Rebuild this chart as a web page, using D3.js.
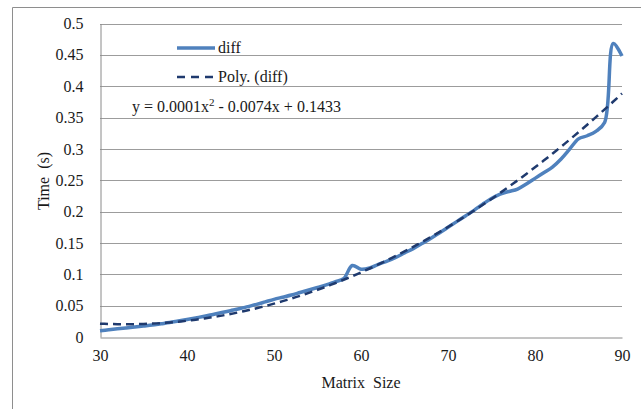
<!DOCTYPE html>
<html>
<head>
<meta charset="utf-8">
<script src="https://cdn.jsdelivr.net/npm/d3@7"></script>
<style>
  html, body { margin: 0; padding: 0; background: #ffffff; }
  svg { display: block; }
  text { font-family: "Liberation Serif", "Times New Roman", serif; fill: #1a1a1a; white-space: pre; }
</style>
</head>
<body>
<svg id="chart" width="641" height="409"></svg>
<script>
// Matrix size (x) and measured time difference in seconds (y)
const matrixSize = [30,31,32,33,34,35,36,37,38,39,40,41,42,43,44,45,46,47,48,49,50,51,52,53,54,55,56,57,58,59,60,61,62,63,64,65,66,67,68,69,70,71,72,73,74,75,76,77,78,79,80,81,82,83,84,85,86,87,88,89,90];
const diffTime   = [0.010,0.0115,0.013,0.0145,0.016,0.0175,0.019,0.021,0.023,0.0255,0.028,0.0305,0.033,0.036,0.039,0.042,0.045,0.0485,0.052,0.056,0.060,0.0635,0.067,0.071,0.075,0.079,0.083,0.088,0.093,0.114,0.108,0.110,0.116,0.121,0.127,0.134,0.141,0.149,0.157,0.166,0.175,0.184,0.193,0.202,0.212,0.221,0.228,0.232,0.236,0.244,0.253,0.262,0.271,0.284,0.300,0.316,0.321,0.328,0.342,0.468,0.448];

const xTicks = [30,40,50,60,70,80,90];
const yTicks = [0,0.05,0.1,0.15,0.2,0.25,0.3,0.35,0.4,0.45,0.5];
const yTickLabels = ["0","0.05","0.1","0.15","0.2","0.25","0.3","0.35","0.4","0.45","0.5"];

const legendLabels = ["diff", "Poly. (diff)"];
const equationText = ["y = 0.0001x", "2", " - 0.0074x + 0.1433"];
const xTitle = "Matrix  Size";
const yTitle = "Time  (s)";

const svg = d3.select("#chart");
const plot = { left: 100, right: 622, top: 23.5, bottom: 337 };

const x = d3.scaleLinear().domain([30, 90]).range([plot.left, plot.right]);
const y = d3.scaleLinear().domain([0, 0.5]).range([plot.bottom, plot.top]);

// Outer chart frame
svg.append("path")
  .attr("d", "M12.5,409 L12.5,7.5 L641,7.5")
  .attr("fill", "none").attr("stroke", "#8e8e8e").attr("stroke-width", 1);

// Horizontal gridlines
svg.append("g").selectAll("line").data(yTicks.slice(1)).join("line")
  .attr("x1", plot.left).attr("x2", plot.right)
  .attr("y1", d => Math.round(y(d)) + 0.5).attr("y2", d => Math.round(y(d)) + 0.5)
  .attr("stroke", "#9c9c9c").attr("stroke-width", 1);

// Y axis
const yAxis = svg.append("g")
  .attr("transform", `translate(${plot.left + 0.5},0)`)
  .call(d3.axisLeft(y).tickValues(yTicks).tickSize(0).tickPadding(17)
    .tickFormat((d, i) => yTickLabels[i]));
yAxis.select(".domain").attr("stroke", "#8a8a8a");
yAxis.selectAll("text").attr("font-size", 16).attr("font-family", "Liberation Serif").attr("fill", "#1a1a1a");

// X axis
const xAxis = svg.append("g")
  .attr("transform", `translate(0,${Math.round(plot.bottom) + 0.5})`)
  .call(d3.axisBottom(x).tickValues(xTicks).tickSize(0).tickPadding(12).tickFormat(d3.format("d")));
xAxis.select(".domain").attr("stroke", "#8a8a8a");
xAxis.selectAll("text").attr("font-size", 16).attr("font-family", "Liberation Serif").attr("fill", "#1a1a1a");

// Least-squares quadratic fit of the series (polynomial trendline, order 2)
function quadFit(xs, ys) {
  let s = [0,0,0,0,0], t = [0,0,0];
  xs.forEach((xv, i) => {
    let p = 1;
    for (let k = 0; k < 5; k++) { s[k] += p; p *= xv; }
    t[0] += ys[i]; t[1] += ys[i] * xv; t[2] += ys[i] * xv * xv;
  });
  const M = [[s[0], s[1], s[2], t[0]], [s[1], s[2], s[3], t[1]], [s[2], s[3], s[4], t[2]]];
  for (let c = 0; c < 3; c++) {
    for (let r = c + 1; r < 3; r++) {
      const f = M[r][c] / M[c][c];
      for (let k = c; k < 4; k++) M[r][k] -= f * M[c][k];
    }
  }
  const sol = [0,0,0];
  for (let r = 2; r >= 0; r--) {
    let v = M[r][3];
    for (let k = r + 1; k < 3; k++) v -= M[r][k] * sol[k];
    sol[r] = v / M[r][r];
  }
  return sol; // [c0, c1, c2]
}
const coef = quadFit(matrixSize, diffTime);
const trendPts = d3.range(30, 90.01, 0.5).map(v => [v, coef[0] + coef[1] * v + coef[2] * v * v]);

// Data series
const dataPts = matrixSize.map((v, i) => [v, diffTime[i]]);
svg.append("path")
  .datum(dataPts)
  .attr("fill", "none")
  .attr("stroke", "#4f81bd")
  .attr("stroke-width", 3.5)
  .attr("stroke-linejoin", "round")
  .attr("d", d3.line().x(d => x(d[0])).y(d => y(d[1])).curve(d3.curveCatmullRom.alpha(0.5)));

// Trendline
svg.append("path")
  .datum(trendPts)
  .attr("fill", "none")
  .attr("stroke", "#1f3a6e")
  .attr("stroke-width", 2.5)
  .attr("stroke-dasharray", "8,5")
  .attr("d", d3.line().x(d => x(d[0])).y(d => y(d[1])));

// Legend
const legend = svg.append("g");
legend.append("line").attr("x1", 177).attr("x2", 215).attr("y1", 48).attr("y2", 48)
  .attr("stroke", "#4f81bd").attr("stroke-width", 3.5);
legend.append("line").attr("x1", 177).attr("x2", 216).attr("y1", 77).attr("y2", 77)
  .attr("stroke", "#1f3a6e").attr("stroke-width", 2.5).attr("stroke-dasharray", "8,6");
legend.selectAll("text.lab").data(legendLabels).join("text").attr("class", "lab")
  .attr("x", 218).attr("y", (d, i) => 53 + i * 29)
  .attr("font-size", 16).text(d => d);

// Trendline equation
const eq = svg.append("text").attr("x", 132).attr("y", 112).attr("font-size", 16);
eq.append("tspan").text(equationText[0]);
eq.append("tspan").attr("dy", -6).attr("font-size", 11).text(equationText[1]);
eq.append("tspan").attr("dy", 6).text(equationText[2]);

// Axis titles
svg.append("text").attr("x", 361).attr("y", 388).attr("text-anchor", "middle")
  .attr("font-size", 16).text(xTitle);
svg.append("text").attr("transform", "translate(49,181) rotate(-90)").attr("text-anchor", "middle")
  .attr("font-size", 16).text(yTitle);
</script>
</body>
</html>
